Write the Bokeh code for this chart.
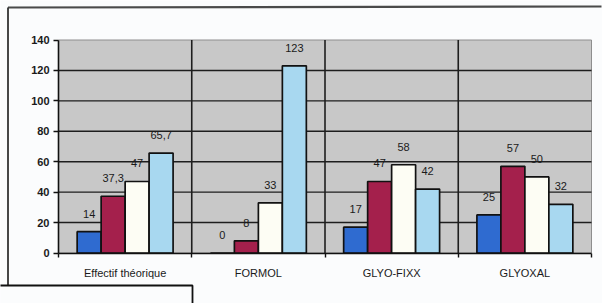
from bokeh.plotting import figure
from bokeh.models import Range1d, LinearAxis, FixedTicker, ColumnDataSource
from bokeh.core.properties import value
from bokeh.embed import file_html
from bokeh.resources import INLINE

# ---- data ----
categories = ["Effectif théorique", "FORMOL", "GLYO-FIXX", "GLYOXAL"]
series_blue = [14, 0, 17, 25]
series_red = [37.3, 8, 47, 57]
series_white = [47, 33, 58, 50]
series_lightblue = [65.7, 123, 42, 32]
y_ticks = [0, 20, 40, 60, 80, 100, 120, 140]

series = [series_blue, series_red, series_white, series_lightblue]
colors = ["#2F6BD0", "#A4204C", "#FDFDF4", "#A8D8F0"]
offsets = [-0.27, -0.09, 0.09, 0.27]
bar_w = 0.18

# ---- layout (pixels inside the figure) ----
W, H = 602, 303
PL, PR, PT, PB = 58, 591, 39.5, 252.5
YMAX = y_ticks[-1]
NCAT = len(categories)
xs = (PR - PL) / NCAT
ys = (PB - PT) / YMAX
x_start, x_end = -PL / xs, NCAT + (W - PR) / xs
y_start, y_end = -(H - PB) / ys, YMAX + PT / ys

def xd(px):
    return x_start + px / xs

def yd(py):
    return y_end - py / ys

FONT = value("Liberation Sans")
PAGE = "#FBFCFD"

p = figure(width=W, height=H, x_range=Range1d(x_start, x_end), y_range=Range1d(y_start, y_end),
           output_backend="svg", toolbar_location=None, min_border=0, title=None,
           x_axis_type=None, y_axis_type=None)
p.outline_line_color = None
p.background_fill_color = PAGE
p.border_fill_color = PAGE

# outer chart frame: top and left border lines, and the clipped box at bottom left
p.line(x=[xd(7.5), xd(W - 1)], y=[yd(7), yd(6)], line_color="#4A4A4A", line_width=2.2)
p.line(x=[xd(7.5), xd(7.5)], y=[yd(7), yd(285)], line_color="#333333", line_width=1.8)
p.quad(left=[xd(-10)], right=[xd(192)], top=[yd(285)], bottom=[yd(H + 10)],
       fill_color=PAGE, line_color="#111111", line_width=1.8)

# plot area background
p.quad(left=[0], right=[NCAT], bottom=[0], top=[YMAX], fill_color="#C8C8C8",
       line_color="#8E8E8E", line_width=1)

# grid lines
hg = y_ticks[1:-1]
p.segment(x0=[0] * len(hg), x1=[NCAT] * len(hg), y0=hg, y1=hg, line_color="#1E1E1E", line_width=1.4)
vg = list(range(1, NCAT))
p.segment(x0=vg, x1=vg, y0=[0] * len(vg), y1=[YMAX] * len(vg), line_color="#1E1E1E", line_width=1.6)

# bars and labels
for vals, col, off in zip(series, colors, offsets):
    xpos = [i + 0.5 + off for i in range(NCAT)]
    labels = [f"{v:g}".replace(".", ",") for v in vals]
    src = ColumnDataSource(dict(x=xpos, top=vals, lab=labels))
    p.vbar(x="x", top="top", bottom=0, width=bar_w, source=src, fill_color=col,
           line_color="#111111", line_width=1.7)
    p.text(x="x", y="top", text="lab", source=src, text_align="center", text_baseline="middle",
           y_offset=-18, text_font=FONT, text_font_size="11px", text_color="#1A1A1A")

# axes
yaxis = LinearAxis(fixed_location=0, bounds=(0, YMAX), ticker=FixedTicker(ticks=y_ticks))
yaxis.axis_line_color = "#111111"
yaxis.axis_line_width = 1.6
yaxis.major_tick_in = 0
yaxis.major_tick_out = 5
yaxis.major_tick_line_color = "#111111"
yaxis.major_tick_line_width = 1.4
yaxis.minor_tick_line_color = None
yaxis.major_label_standoff = 4
yaxis.major_label_text_font = "Liberation Sans"
yaxis.major_label_text_font_size = "11px"
yaxis.major_label_text_font_style = "bold"
yaxis.major_label_text_color = "#1A1A1A"
p.add_layout(yaxis, "left")

centers = [i + 0.5 for i in range(NCAT)]
xaxis = LinearAxis(fixed_location=0, bounds=(0, NCAT),
                   ticker=FixedTicker(ticks=centers, minor_ticks=list(range(NCAT + 1))))
xaxis.major_label_overrides = {c: name for c, name in zip(centers, categories)}
xaxis.axis_line_color = "#111111"
xaxis.axis_line_width = 1.6
xaxis.major_tick_line_color = None
xaxis.major_tick_in = 0
xaxis.major_tick_out = 0
xaxis.minor_tick_in = 0
xaxis.minor_tick_out = 4
xaxis.minor_tick_line_color = "#111111"
xaxis.minor_tick_line_width = 1.4
xaxis.major_label_standoff = 10
xaxis.major_label_text_font = "Liberation Sans"
xaxis.major_label_text_font_size = "11px"
xaxis.major_label_text_color = "#1A1A1A"
p.add_layout(xaxis, "below")

open("out.html", "w").write(file_html(p, INLINE))
